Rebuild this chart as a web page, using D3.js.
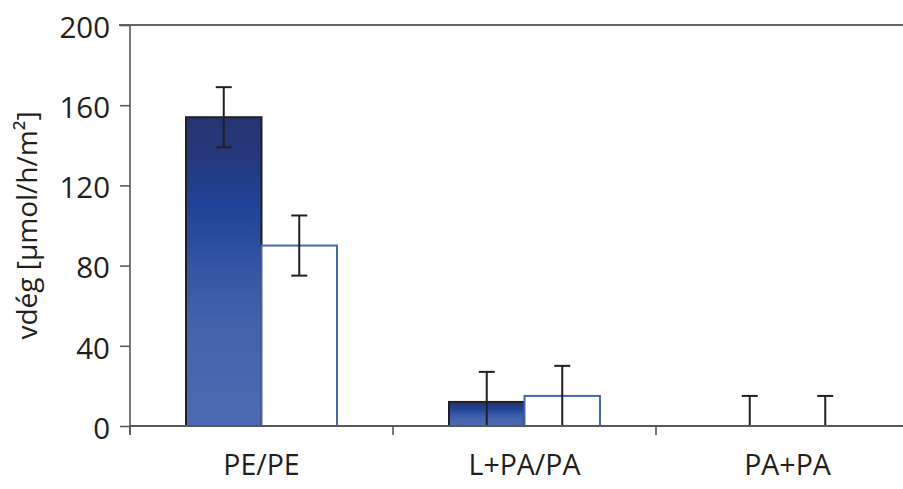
<!DOCTYPE html>
<html>
<head>
<meta charset="utf-8">
<script src="https://cdn.jsdelivr.net/npm/d3@7"></script>
<style>
  html, body { margin: 0; padding: 0; background: #fff; }
  svg { display: block; }
  text { font-family: "Open Sans", sans-serif; fill: #231f20; }
</style>
</head>
<body>
<svg id="chart" width="903" height="489"></svg>
<script>
const categories = ["PE/PE", "L+PA/PA", "PA+PA"];
const seriesNames = ["dark", "light"];
const darkValues = [154, 12, 0];
const lightValues = [90, 15, 0];
const darkErrors = [15, 15, 15];
const lightErrors = [15, 15, 15];
const yTicks = [0, 40, 80, 120, 160, 200];
const yLabel = "vdég [µmol/h/m²]";

(function () {
const svg = d3.select("#chart");
const mLeft = 130, mTop = 25, mBottom = 426, bandW = 263;

const y = d3.scaleLinear().domain([0, 200]).range([mBottom, mTop]);
const x0 = d3.scaleBand().domain(categories).range([mLeft, mLeft + bandW * categories.length]).padding(0);
const x1 = d3.scaleBand().domain(seriesNames).range([56, bandW - 56]).padding(0);

// gradient
const defs = svg.append("defs");
const grad = defs.append("linearGradient").attr("id", "darkGrad")
  .attr("x1", 0).attr("y1", 0).attr("x2", 0).attr("y2", 1);
grad.append("stop").attr("offset", "0%").attr("stop-color", "#263472");
grad.append("stop").attr("offset", "14%").attr("stop-color", "#25397f");
grad.append("stop").attr("offset", "30%").attr("stop-color", "#1f4498");
grad.append("stop").attr("offset", "50%").attr("stop-color", "#3556a4");
grad.append("stop").attr("offset", "68%").attr("stop-color", "#4563ad");
grad.append("stop").attr("offset", "100%").attr("stop-color", "#4a6ab1");

const data = categories.map((c, i) => ({
  cat: c,
  bars: [
    { s: "dark", v: darkValues[i], e: darkErrors[i] },
    { s: "light", v: lightValues[i], e: lightErrors[i] }
  ]
}));

// top border line
svg.append("line")
  .attr("x1", 119).attr("x2", 903)
  .attr("y1", y(200)).attr("y2", y(200))
  .attr("stroke", "#333").attr("stroke-width", 1.6);

// bars
const groups = svg.selectAll("g.grp").data(data).enter().append("g")
  .attr("class", "grp")
  .attr("transform", d => `translate(${x0(d.cat)},0)`);

groups.selectAll("rect").data(d => d.bars.filter(b => b.v > 0)).enter().append("rect")
  .attr("x", b => x1(b.s))
  .attr("y", b => y(b.v))
  .attr("width", x1.bandwidth())
  .attr("height", b => y(0) - y(b.v))
  .attr("fill", b => b.s === "dark" ? "url(#darkGrad)" : "#ffffff")
  .attr("stroke", b => b.s === "dark" ? "#231f20" : "#4468b4")
  .attr("stroke-width", 2);

// axes
const yAxis = d3.axisLeft(y).tickValues(yTicks).tickSize(10).tickPadding(10);
const gy = svg.append("g").attr("transform", `translate(${mLeft},0)`).call(yAxis);
gy.select(".domain").remove();
gy.append("line").attr("x1", 0).attr("x2", 0).attr("y1", y(200)).attr("y2", mBottom + 9)
  .attr("stroke", "#595959").attr("stroke-width", 1.6);
gy.selectAll(".tick line").attr("stroke", "#595959").attr("stroke-width", 1.6);
gy.selectAll(".tick text").style("font-size", "29.5px").attr("fill", "#231f20").attr("dy", "0.42em");

const xAxis = d3.axisBottom(x0).tickSize(0).tickPadding(29);
const gx = svg.append("g").attr("transform", `translate(0,${mBottom})`).call(xAxis);
gx.select(".domain").remove();
gx.append("line").attr("x1", mLeft).attr("x2", 903).attr("y1", 0).attr("y2", 0)
  .attr("stroke", "#595959").attr("stroke-width", 1.8);
gx.selectAll(".tick text").style("font-size", "28.5px").attr("fill", "#231f20");
// category boundary ticks
gx.selectAll("line.bt").data(categories).enter().append("line").attr("class", "bt")
  .attr("x1", c => x0(c)).attr("x2", c => x0(c))
  .attr("y1", 0).attr("y2", 9)
  .attr("stroke", "#595959").attr("stroke-width", 1.6);

// error bars
const capW = 8;
const eb = groups.selectAll("g.eb").data(d => d.bars).enter().append("g").attr("class", "eb");
eb.append("line")
  .attr("x1", b => x1(b.s) + x1.bandwidth() / 2)
  .attr("x2", b => x1(b.s) + x1.bandwidth() / 2)
  .attr("y1", b => y(b.v + b.e))
  .attr("y2", b => y(Math.max(0, b.v - b.e)))
  .attr("stroke", "#231f20").attr("stroke-width", 2);
eb.append("line")
  .attr("x1", b => x1(b.s) + x1.bandwidth() / 2 - capW)
  .attr("x2", b => x1(b.s) + x1.bandwidth() / 2 + capW)
  .attr("y1", b => y(b.v + b.e)).attr("y2", b => y(b.v + b.e))
  .attr("stroke", "#231f20").attr("stroke-width", 2);
eb.filter(b => b.v - b.e > 0).append("line")
  .attr("x1", b => x1(b.s) + x1.bandwidth() / 2 - capW)
  .attr("x2", b => x1(b.s) + x1.bandwidth() / 2 + capW)
  .attr("y1", b => y(b.v - b.e)).attr("y2", b => y(b.v - b.e))
  .attr("stroke", "#231f20").attr("stroke-width", 2);

// y label
svg.append("text")
  .attr("transform", `translate(37,${(mTop + mBottom) / 2}) rotate(-90)`)
  .attr("text-anchor", "middle")
  .style("font-size", "28px")
  .text(yLabel);
})();
</script>
</body>
</html>
